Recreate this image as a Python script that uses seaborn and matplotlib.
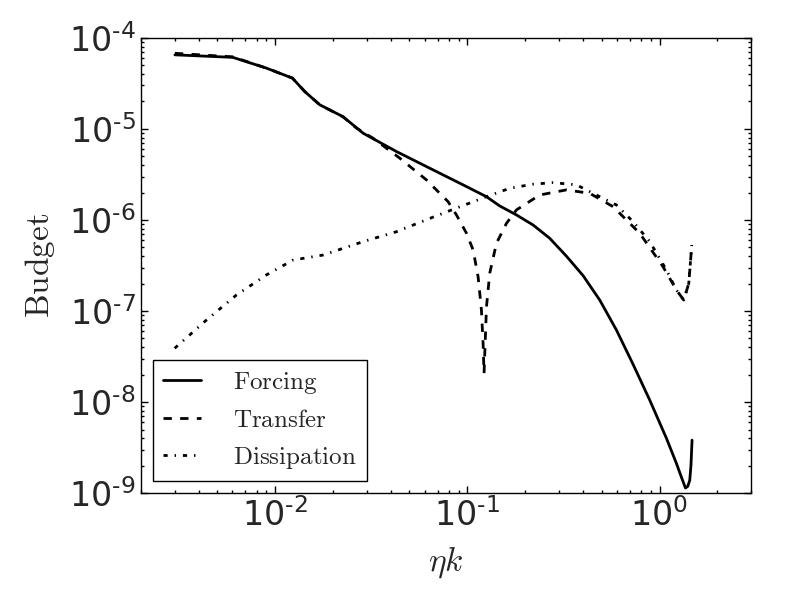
import numpy as np
import matplotlib
matplotlib.use("Agg")
import matplotlib.pyplot as plt
import matplotlib.ticker as mticker
import seaborn as sns

# energy budget vs eta*k
k_forcing = [0.00301, 0.00602, 0.0090, 0.0123, 0.01426, 0.01706, 0.02257, 0.02868,
             0.04279, 0.06375, 0.0950, 0.1258, 0.1475, 0.1802, 0.2198, 0.2685, 0.328,
             0.4002, 0.4887, 0.597, 0.7286, 0.890, 1.087, 1.225, 1.30, 1.365, 1.403,
             1.437, 1.458, 1.477]
forcing = [6.50e-5, 6.10e-5, 4.65e-5, 3.61e-5, 2.57e-5, 1.84e-5, 1.36e-5, 8.97e-6,
           5.64e-6, 3.70e-6, 2.43e-6, 1.80e-6, 1.425e-6, 1.135e-6, 8.81e-7, 6.29e-7, 4.0e-7,
           2.45e-7, 1.32e-7, 6.18e-8, 2.6e-8, 1.05e-8, 4.0e-9, 2.12e-9, 1.5e-9, 1.14e-9, 1.19e-9,
           1.39e-9, 2.03e-9, 3.82e-9]

k_transfer = [0.00301, 0.00602, 0.0090, 0.0123, 0.01426, 0.01706, 0.02257, 0.0265,
              0.0323, 0.04451, 0.0613, 0.0794, 0.0878, 0.0990, 0.1072, 0.1138, 0.1184,
              0.1208, 0.1222, 0.1258, 0.1308, 0.1418, 0.1599, 0.1802, 0.238, 0.328,
              0.4336, 0.5733, 0.789, 1.043, 1.225, 1.337, 1.420, 1.472]
transfer = [6.76e-5, 6.18e-5, 4.65e-5, 3.61e-5, 2.57e-5, 1.84e-5, 1.355e-5, 1.02e-5,
            7.91e-6, 4.77e-6, 2.75e-6, 1.59e-6, 1.135e-6, 7.15e-7, 4.68e-7, 2.38e-7, 1.03e-7,
            4.42e-8, 2.07e-8, 1.11e-7, 2.60e-7, 5.55e-7, 9.2e-7, 1.29e-6, 1.88e-6, 2.14e-6,
            1.96e-6, 1.40e-6, 7.15e-7, 3.07e-7, 1.70e-7, 1.32e-7, 2.01e-7, 5.31e-7]

k_dissipation = [0.0030, 0.00439, 0.00629, 0.0090, 0.0124, 0.01776, 0.02868, 0.04279,
                 0.06375, 0.0878, 0.1258, 0.1663, 0.2198, 0.2793, 0.3697, 0.4887, 0.597,
                 0.7286, 0.890, 1.087, 1.225, 1.337, 1.420, 1.472]
dissipation = [3.9e-8, 7.96e-8, 1.50e-7, 2.49e-7, 3.63e-7, 4.12e-7, 5.78e-7, 7.43e-7,
               1.04e-6, 1.35e-6, 1.80e-6, 2.23e-6, 2.47e-6, 2.57e-6, 2.43e-6, 1.80e-6, 1.46e-6,
               9.57e-7, 5.78e-7, 2.82e-7, 1.70e-7, 1.32e-7, 2.01e-7, 5.31e-7]

xticks = [1e-2, 1e-1, 1e0]
yticks = [1e-9, 1e-8, 1e-7, 1e-6, 1e-5, 1e-4]

sns.set_style("ticks")
plt.rcParams["mathtext.fontset"] = "cm"
plt.rcParams["font.family"] = ["DejaVu Sans"]
plt.rcParams["lines.scale_dashes"] = False
plt.rcParams["lines.dashed_pattern"] = [6, 6]
plt.rcParams["lines.dashdot_pattern"] = [3, 5, 1, 5]
plt.rcParams["xtick.direction"] = "in"
plt.rcParams["ytick.direction"] = "in"

fig, ax = plt.subplots(figsize=(8, 6), dpi=100)
fig.subplots_adjust(left=0.176, right=0.939, top=0.937, bottom=0.178)

sns.lineplot(x=k_forcing, y=forcing, ax=ax, color="k", lw=2, linestyle="-",
             estimator=None, sort=False, label=r"$\mathrm{Forcing}$")
sns.lineplot(x=k_transfer, y=transfer, ax=ax, color="k", lw=2, linestyle="--",
             estimator=None, sort=False, label=r"$\mathrm{Transfer}$")
sns.lineplot(x=k_dissipation, y=dissipation, ax=ax, color="k", lw=2, linestyle="-.",
             estimator=None, sort=False, label=r"$\mathrm{Dissipation}$")

ax.set_xscale("log")
ax.set_yscale("log")
ax.set_xticks(xticks)
ax.set_yticks(yticks)
ax.set_xlim(0.002, 3)
ax.set_ylim(1e-9, 1e-4)


# old-style labels: short hyphen in the exponent
def pow10(v, pos):
    e = int(round(np.log10(v)))
    s = ("\u2010" + str(-e)) if e < 0 else str(e)
    return r"$\mathdefault{10^{%s}}$" % s


ax.xaxis.set_major_formatter(mticker.FuncFormatter(pow10))
ax.yaxis.set_major_formatter(mticker.FuncFormatter(pow10))
ax.xaxis.set_minor_formatter(mticker.NullFormatter())
ax.yaxis.set_minor_formatter(mticker.NullFormatter())

ax.tick_params(which="both", top=True, right=True, direction="in", labelsize=24, color="k")
ax.tick_params(which="major", length=5, width=1)
ax.tick_params(which="minor", length=2.5, width=1)
for s in ax.spines.values():
    s.set_linewidth(1)
    s.set_color("k")

ax.set_xlabel(r"$\eta k$", fontsize=24, labelpad=8)
ax.set_ylabel(r"$\mathrm{Budget}$", fontsize=24, labelpad=9)

leg = ax.legend(loc="lower left", fontsize=18, handlelength=1.5, handletextpad=1.3,
                labelspacing=0.5, borderpad=0.4, borderaxespad=0.5,
                fancybox=False, framealpha=1)
leg.get_frame().set_edgecolor("k")
leg.get_frame().set_linewidth(1)

fig.savefig("out.png", dpi=100)
